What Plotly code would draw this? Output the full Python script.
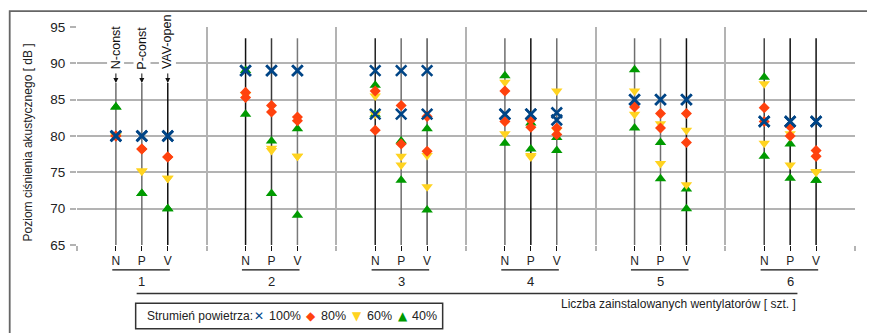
import plotly.graph_objects as go

# ---------------- data ----------------
groups = ["1", "2", "3", "4", "5", "6"]
types = ["N", "P", "V"]
top_labels = ["N-const", "P-const", "VAV-open"]

# two readings per category (N,P,V of groups 1..6), per air-flow series
v100_a = [80, 80, 80, 89, 89, 89, 89, 89, 89, 83, 83, 83.2, 85, 85, 85, 82, 82, 82]
v100_b = [80, 80, 80, 89, 89, 89, 83, 83, 83, 83, 83, 82.2, 85, 85, 85, 82, 82, 82]
v80_a = [80, 78.2, 77.1, 86.0, 84.2, 82.6, 86.2, 84.2, 82.7, 86.2, 82.2, 81.1, 84.4, 83.1, 83.1, 83.9, 81.3, 78.0]
v80_b = [80, 78.2, 77.1, 85.3, 83.3, 82.1, 80.8, 78.9, 77.9, 82.0, 81.2, 80.2, 84.0, 81.1, 79.1, 82.0, 80.0, 77.2]
v60_a = [80, 75.2, 74.2, 85.7, 78.3, 77.2, 85.5, 77.2, 77.3, 87.4, 77.3, 86.2, 86.2, 81.7, 80.8, 87.2, 80.3, 75.1]
v60_b = [80, 75.2, 74.2, 85.7, 78.0, 77.2, 83.0, 76.0, 73.0, 80.3, 77.1, 80.8, 83.0, 76.2, 73.3, 79.0, 76.0, 75.0]
v40_a = [84, 72.1, 70.0, 89.0, 79.3, 81.0, 87.0, 79.3, 81.0, 88.3, 81.8, 79.8, 89.1, 79.1, 72.7, 88.1, 78.9, 73.9]
v40_b = [84, 72.1, 70.0, 83.0, 72.1, 69.1, 83.0, 73.9, 69.8, 79.0, 78.2, 78.0, 81.1, 74.1, 70.0, 77.2, 74.2, 73.9]

series_names = ["40%", "60%", "80%", "100%"]
y_ticks = [65, 70, 75, 80, 85, 90, 95]

# ---------------- styles ----------------
FONT = "Liberation Sans"
col100, col80, col60, col40 = "#004586", "#ff420e", "#ffd320", "#009a00"
line_cols = ["#6e6e6e", "#6e6e6e", "#111111",
             "#111111", "#3a3a3a", "#7a7a7a",
             "#222222", "#6e6e6e", "#555555",
             "#6e6e6e", "#111111", "#6e6e6e",
             "#6e6e6e", "#6e6e6e", "#111111",
             "#444444", "#111111", "#111111"]

# category positions: 5 slots per group, N/P/V in slots 1..3
xpos = [5 * g + 1.5 + t for g in range(len(groups)) for t in range(len(types))]
ticktext = [t for g in groups for t in types]

fig = go.Figure()

# vertical category lines
for i, x in enumerate(xpos):
    top = 87.3 if i < 3 else 93.45
    fig.add_trace(go.Scatter(x=[x, x], y=[top, 65], mode="lines",
                             line=dict(color=line_cols[i], width=1.5),
                             hoverinfo="skip", showlegend=False))

xx = xpos + xpos
specs = [
    ("40%", v40_a + v40_b, dict(symbol="triangle-up", size=10, color=col40)),
    ("60%", v60_a + v60_b, dict(symbol="triangle-down", size=10, color=col60)),
    ("80%", v80_a + v80_b, dict(symbol="diamond", size=8.5, color=col80)),
    ("100%", v100_a + v100_b, dict(symbol="x-thin", size=10.5, color=col100,
                                   line=dict(color=col100, width=2.6))),
]
for name, ys, mk in specs:
    fig.add_trace(go.Scatter(x=xx, y=ys, mode="markers", name=name,
                             marker=mk, showlegend=False))

annotations = []
shapes = []

# top labels with arrows (group 1)
for t, lab in enumerate(top_labels):
    annotations.append(dict(x=xpos[t], y=88.9, xref="x", yref="y", text=lab,
                            textangle=-90, showarrow=False, yanchor="bottom",
                            xanchor="center", bgcolor="white", borderpad=1,
                            font=dict(family=FONT, size=12.5, color="#111")))
    annotations.append(dict(x=xpos[t], y=87.3, xref="x", yref="y", text="",
                            showarrow=True, ax=0, ay=-11, arrowhead=2,
                            arrowsize=1, arrowwidth=1, arrowcolor="#111"))

# group underlines and numbers
for g, gl in enumerate(groups):
    xn, xp, xv = xpos[3 * g], xpos[3 * g + 1], xpos[3 * g + 2]
    shapes.append(dict(type="line", xref="x", yref="paper", x0=xn - 0.14, x1=xv + 0.08,
                       y0=-0.1145, y1=-0.1145, line=dict(color="#111", width=1.2)))
    annotations.append(dict(x=xp, y=-0.169, xref="x", yref="paper", text=gl,
                            showarrow=False, yanchor="middle",
                            font=dict(family=FONT, size=13, color="#222")))

# long line + x title
shapes.append(dict(type="line", xref="x", yref="paper", x0=2.3, x1=27.78,
                   y0=-0.222, y1=-0.222, line=dict(color="#333", width=1.5)))
annotations.append(dict(x=0.9264, y=-0.2716, xref="paper", yref="paper",
                        text="Liczba zainstalowanych wentylatorów [ szt. ]",
                        showarrow=False, xanchor="right", yanchor="middle",
                        font=dict(family=FONT, size=12, color="#222")))

# y title
annotations.append(dict(x=-0.0634, y=0.469, xref="paper", yref="paper",
                        text="Poziom ciśnienia akustycznego [ dB ]", textangle=-90,
                        showarrow=False, xanchor="center", yanchor="middle",
                        font=dict(family=FONT, size=12, color="#222")))

# legend box
shapes.append(dict(type="rect", xref="paper", yref="paper", x0=0.0754, x1=0.470,
                   y0=-0.3838, y1=-0.2671, line=dict(color="#333", width=1.5)))
ly = -0.3277
annotations.append(dict(x=0.087, y=ly, xref="paper", yref="paper",
                        text="Strumień powietrza:", showarrow=False,
                        xanchor="left", yanchor="middle",
                        font=dict(family=FONT, size=12, color="#222")))
leg_items = [("✕", col100, 0.2345, "100%", 0.2445),
             ("◆", col80, 0.3013, "80%", 0.3107),
             ("▼", col60, 0.3597, "60%", 0.3698),
             ("▲", col40, 0.4188, "40%", 0.4277)]
for sym, c, sx, lab, tx in leg_items:
    annotations.append(dict(x=sx, y=ly, xref="paper", yref="paper", text=sym,
                            showarrow=False, xanchor="center", yanchor="middle",
                            font=dict(family="DejaVu Sans", size=12, color=c)))
    annotations.append(dict(x=tx, y=ly, xref="paper", yref="paper", text=lab,
                            showarrow=False, xanchor="left", yanchor="middle",
                            font=dict(family=FONT, size=12.5, color="#222")))

# outer frame
shapes.append(dict(type="rect", xref="paper", yref="paper", x0=-0.0865, x1=1.0176,
                   y0=-0.46, y1=1.0727, line=dict(color="#666", width=1.8)))

# page body adds an 8px margin: compensate so the plot area lands at (77..855, 22..245)
fig.update_layout(
    width=867, height=325,
    margin=dict(l=69, r=20, t=14, b=88),
    paper_bgcolor="white", plot_bgcolor="white",
    showlegend=False,
    font=dict(family=FONT, color="#222"),
    xaxis=dict(range=[0, 30], tickvals=xpos, ticktext=ticktext,
               ticks="outside", ticklen=5, tickwidth=1, tickcolor="#111",
               showgrid=False, zeroline=False, showline=False,
               tickfont=dict(family=FONT, size=12, color="#222"),
               minor=dict(tickvals=list(range(0, 31, 5)), showgrid=True,
                          gridcolor="#b3b3b3", gridwidth=1.5,
                          ticks="outside", ticklen=5, tickcolor="#b3b3b3",
                          tickwidth=1.5)),
    yaxis=dict(range=[65, 95], tickvals=y_ticks, showgrid=True,
               gridcolor="#b3b3b3", gridwidth=1.5, zeroline=False,
               showline=False, ticks="outside", ticklen=6, tickcolor="#b3b3b3",
               tickwidth=1.5, ticklabelstandoff=2,
               tickfont=dict(family=FONT, size=13.5, color="#222")),
    annotations=annotations, shapes=shapes,
)

fig.write_html("out.html")
